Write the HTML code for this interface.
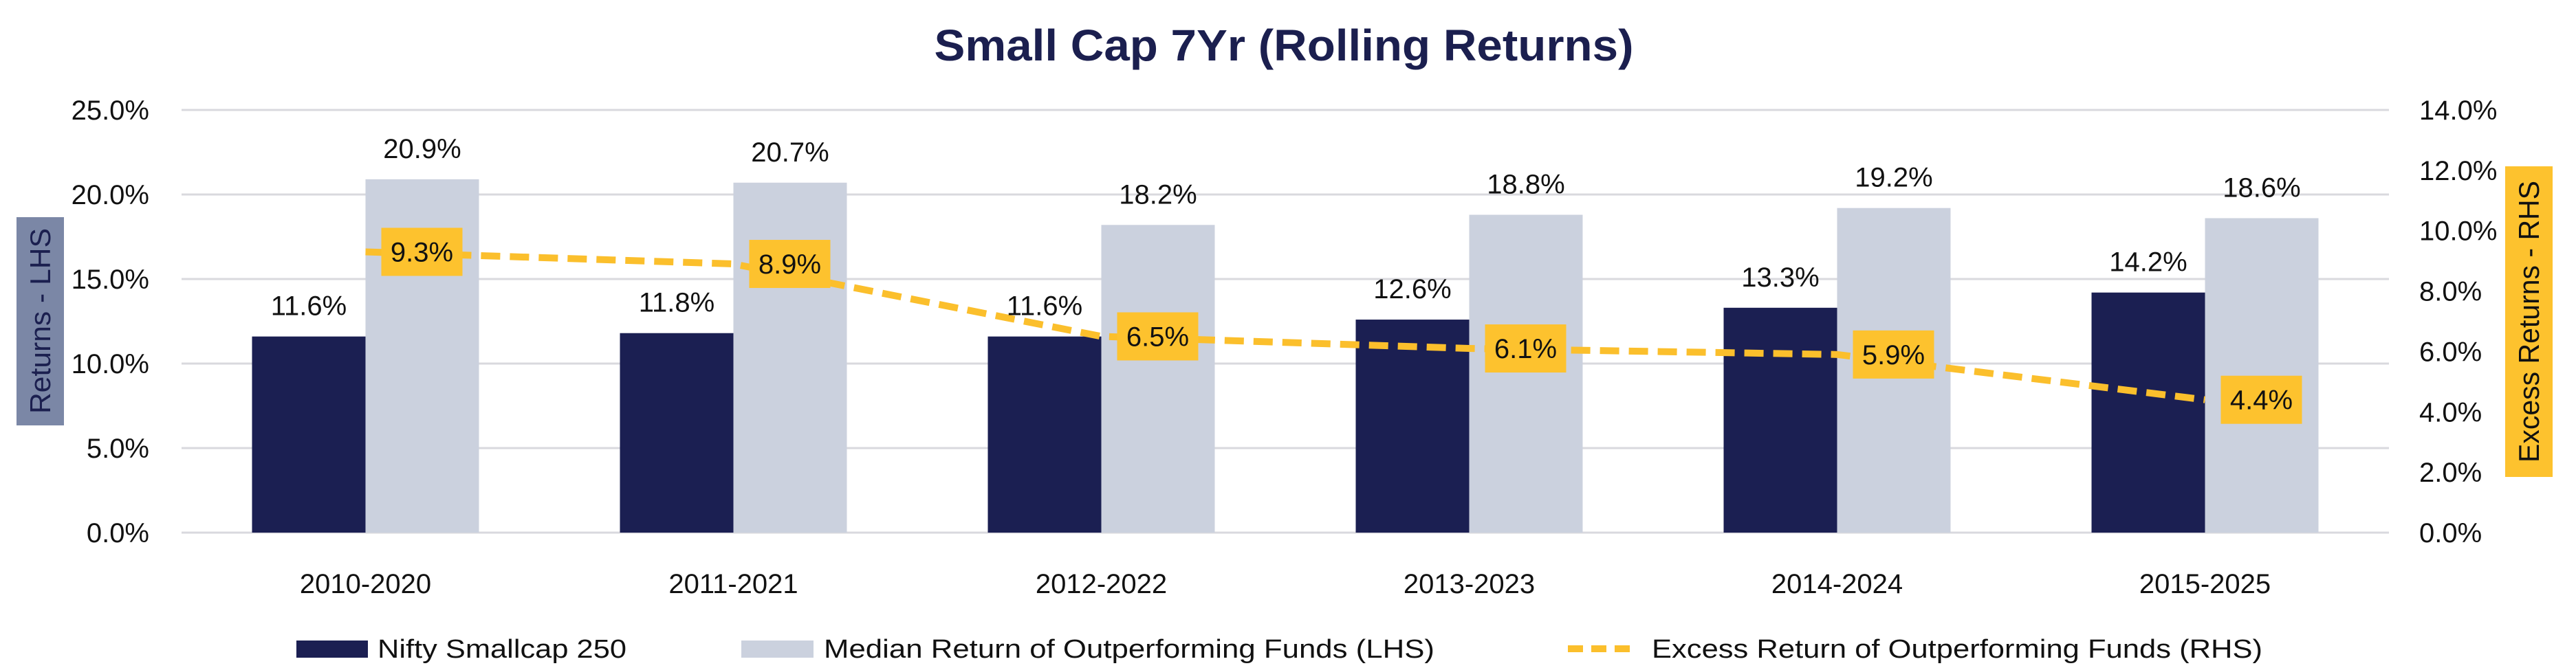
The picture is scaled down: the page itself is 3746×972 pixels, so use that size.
<!DOCTYPE html>
<html><head><meta charset="utf-8"><style>
html,body{margin:0;padding:0;background:#fff;}
svg{display:block;font-family:"Liberation Sans",sans-serif;}
</style></head><body>
<svg id="chart" width="3746" height="972" viewBox="0 0 3746 972" xmlns="http://www.w3.org/2000/svg">
<text x="1867" y="88" text-anchor="middle" font-size="64" font-weight="bold" fill="#1b1f4f" textLength="1017" lengthAdjust="spacingAndGlyphs">Small Cap 7Yr (Rolling Returns)</text>
<g id="grid"></g><g id="bars"></g><g id="line"></g><g id="labels"></g>
<rect x="24" y="316" width="69" height="303" fill="#7b87a6"/>
<text transform="translate(73,467) rotate(-90)" text-anchor="middle" font-size="42" fill="#1b1f4f" textLength="270" lengthAdjust="spacingAndGlyphs">Returns  - LHS</text>
<rect x="3643" y="242" width="69" height="452" fill="#fdc22e"/>
<text transform="translate(3692,468) rotate(-90)" text-anchor="middle" font-size="42" fill="#111" textLength="410" lengthAdjust="spacingAndGlyphs">Excess Returns  - RHS</text>
<g>
<rect x="431" y="932" width="104" height="25" fill="#1b1f52"/>
<text x="549" y="957" font-size="38" fill="#111" textLength="362" lengthAdjust="spacingAndGlyphs">Nifty Smallcap 250</text>
<rect x="1078" y="932" width="105" height="25" fill="#cbd1de"/>
<text x="1198" y="957" font-size="38" fill="#111" textLength="888" lengthAdjust="spacingAndGlyphs">Median Return of Outperforming Funds (LHS)</text>
<line x1="2280" y1="944" x2="2380" y2="944" stroke="#fbbf2c" stroke-width="10" stroke-dasharray="22,12"/>
<text x="2402" y="957" font-size="38" fill="#111" textLength="888" lengthAdjust="spacingAndGlyphs">Excess Return of Outperforming Funds (RHS)</text>
</g>
</svg>
<script>
const categories=["2010-2020","2011-2021","2012-2022","2013-2023","2014-2024","2015-2025"];
const niftyValues=[11.6,11.8,11.6,12.6,13.3,14.2];
const medianValues=[20.9,20.7,18.2,18.8,19.2,18.6];
const excessValues=[9.3,8.9,6.5,6.1,5.9,4.4];
const leftTicks=[0,5,10,15,20,25];
const rightTicks=[0,2,4,6,8,10,12,14];

const NS="http://www.w3.org/2000/svg";
const X0=264,X1=3474,Y0=775,Y1=160;
const band=(X1-X0)/categories.length;
const xc=i=>X0+band*(i+0.5);
const yL=v=>Y0-(v/25)*(Y0-Y1);
const yR=v=>Y0-(v/14)*(Y0-Y1);
const BW=165;
function mk(tag,attrs,parent,text){const e=document.createElementNS(NS,tag);for(const k in attrs)e.setAttribute(k,attrs[k]);if(text!==undefined)e.textContent=text;parent.appendChild(e);return e;}
const grid=document.getElementById('grid'),bars=document.getElementById('bars'),line=document.getElementById('line'),labels=document.getElementById('labels');
leftTicks.forEach(t=>{
  const g=mk('line',{x1:X0,x2:X1,y1:yL(t),y2:yL(t),stroke:'#d9d9de','stroke-width':3},grid);
  
  
  const l=mk('text',{x:217,y:yL(t)+14,'text-anchor':'end','font-size':40,fill:'#111'},grid,t.toFixed(1)+'%');
  
  
});
rightTicks.forEach(t=>{
  const l=mk('text',{x:3518,y:yR(t)+14,'font-size':40,fill:'#111'},grid,t.toFixed(1)+'%');
  
  
});
categories.forEach((c,i)=>{
  const cx=xc(i);
  const b1=mk('rect',{x:cx-BW,y:yL(niftyValues[i]),width:BW,height:Y0-yL(niftyValues[i]),fill:'#1b1f52'},bars);
  
  
  const b2=mk('rect',{x:cx,y:yL(medianValues[i]),width:BW,height:Y0-yL(medianValues[i]),fill:'#cbd1de'},bars);
  
  
  const t1=mk('text',{x:cx-BW/2,y:yL(niftyValues[i])-31,'text-anchor':'middle','font-size':40,fill:'#111'},labels,niftyValues[i].toFixed(1)+'%');
  
  
  const t2=mk('text',{x:cx+BW/2,y:yL(medianValues[i])-31,'text-anchor':'middle','font-size':40,fill:'#111'},labels,medianValues[i].toFixed(1)+'%');
  
  
  const xl=mk('text',{x:cx,y:863,'text-anchor':'middle','font-size':40,fill:'#111'},labels,c);
  
  
});
const pts=excessValues.map((v,i)=>xc(i)+','+yR(v)).join(' ');
const pl=mk('polyline',{points:pts,fill:'none',stroke:'#fbbf2c','stroke-width':10,'stroke-dasharray':'28,14'},line);


excessValues.forEach((v,i)=>{
  const cx=xc(i)+82,cy=yR(v);
  const r=mk('rect',{x:cx-59,y:cy-35,width:118,height:70,fill:'#fdc22e'},labels);
  
  
  const t=mk('text',{x:cx,y:cy+14,'text-anchor':'middle','font-size':40,fill:'#111'},labels,v.toFixed(1)+'%');
  
  
});
</script>
</body></html>
